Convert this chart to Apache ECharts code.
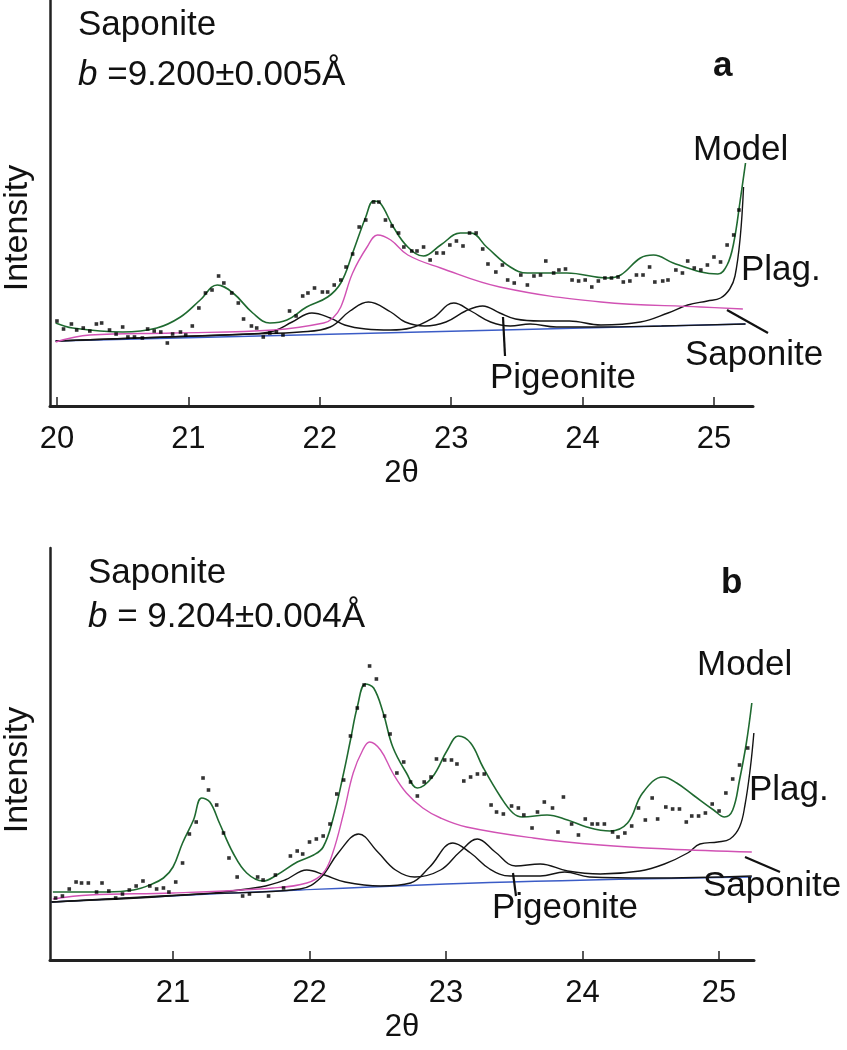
<!DOCTYPE html>
<html>
<head>
<meta charset="utf-8">
<script src="https://cdn.jsdelivr.net/npm/echarts@6/dist/echarts.min.js"></script>
<style>html,body{margin:0;padding:0;background:#fff;}#c{width:847px;height:1050px;}</style>
</head>
<body>
<div id="c"></div>
<script>
// ---------- Data: panel a ----------
var ticksA = [20, 21, 22, 23, 24, 25];
var ticksB = [21, 22, 23, 24, 25];

var obsA = [[20.00,85],[20.05,77],[20.11,82],[20.15,76],[20.20,78],[20.25,75],[20.30,82],[20.34,83],[20.40,76],[20.45,72],[20.50,79],[20.54,69],[20.59,69],[20.65,68],[20.69,77],[20.74,75],[20.79,74],[20.84,63],[20.88,72],[20.94,74],[20.98,71],[21.03,80],[21.08,98],[21.13,113],[21.18,116],[21.23,130],[21.27,123],[21.33,113],[21.38,103],[21.42,87],[21.48,80],[21.52,78],[21.57,69],[21.62,73],[21.67,74],[21.72,71],[21.77,95],[21.82,90],[21.87,110],[21.91,113],[21.96,118],[22.02,114],[22.06,114],[22.11,121],[22.16,126],[22.20,139],[22.25,152],[22.30,179],[22.35,186],[22.41,204],[22.45,204],[22.50,186],[22.55,180],[22.60,173],[22.64,159],[22.70,155],[22.74,155],[22.79,159],[22.84,146],[22.89,153],[22.94,153],[22.99,161],[23.04,165],[23.09,160],[23.14,173],[23.19,173],[23.24,157],[23.28,142],[23.34,134],[23.39,141],[23.43,126],[23.48,123],[23.53,131],[23.58,121],[23.63,130],[23.68,131],[23.72,145],[23.78,133],[23.82,136],[23.87,137],[23.92,126],[23.97,125],[24.02,126],[24.07,119],[24.12,125],[24.17,128],[24.22,128],[24.27,129],[24.31,124],[24.36,125],[24.41,131],[24.46,131],[24.51,139],[24.55,124],[24.61,125],[24.65,126],[24.71,136],[24.76,133],[24.80,145],[24.85,138],[24.90,136],[24.95,141],[25.00,149],[25.05,144],[25.10,161],[25.15,171],[25.19,196]];

var modelA = [[19.99,83],[20.12,78],[20.50,74],[20.76,78],[20.94,89],[21.09,106],[21.22,121],[21.34,113],[21.49,93],[21.62,83],[21.75,86],[21.90,99],[22.06,109],[22.16,123],[22.25,153],[22.35,189],[22.41,205],[22.46,203],[22.56,179],[22.67,159],[22.79,150],[22.92,161],[23.07,173],[23.15,173],[23.27,159],[23.45,139],[23.58,133],[23.88,133],[24.19,128],[24.29,131],[24.44,148],[24.54,151],[24.69,143],[24.90,134],[25.03,132],[25.10,141],[25.15,163],[25.20,206],[25.24,243]];

var saponiteA = [[19.99,64],[20.25,71],[20.88,73],[21.65,76],[22.03,83],[22.10,88],[22.16,99],[22.25,133],[22.36,159],[22.44,171],[22.54,166],[22.67,151],[22.92,138],[23.37,119],[24.14,104],[24.90,99],[25.22,97]];

var pigeoniteA = [[19.99,65],[20.84,69],[21.47,72],[21.65,75],[21.79,84],[21.94,93],[22.08,88],[22.19,81],[22.35,77],[22.54,76],[22.69,78],[22.86,88],[23.02,103],[23.15,95],[23.30,84],[23.45,80],[23.60,82],[23.80,79],[24.10,79],[24.60,80],[25.24,82]];

var plagA = [[19.99,65],[20.84,69],[21.47,72],[21.85,74],[22.08,79],[22.23,95],[22.37,104],[22.54,94],[22.65,84],[22.80,80],[22.96,84],[23.11,95],[23.24,100],[23.37,93],[23.49,87],[23.68,85],[23.90,85],[24.14,81],[24.44,84],[24.65,93],[24.80,101],[24.95,105],[25.05,108],[25.12,117],[25.16,130],[25.20,169],[25.225,219]];

var baseA = [[19.99,65],[25.24,82]];

// ---------- Data: panel b ----------
var obsB = [[20.14,62],[20.19,64],[20.24,71],[20.29,78],[20.33,77],[20.38,77],[20.44,68],[20.48,77],[20.53,69],[20.58,62],[20.63,66],[20.68,70],[20.73,74],[20.78,79],[20.83,74],[20.88,71],[20.93,72],[20.97,68],[21.02,78],[21.07,97],[21.12,126],[21.17,138],[21.22,182],[21.26,170],[21.32,155],[21.37,127],[21.41,102],[21.47,83],[21.51,64],[21.56,66],[21.62,83],[21.66,80],[21.70,64],[21.75,85],[21.81,72],[21.86,104],[21.91,109],[21.95,106],[22.00,118],[22.05,121],[22.10,124],[22.15,136],[22.20,166],[22.25,180],[22.30,224],[22.35,252],[22.40,275],[22.44,294],[22.49,281],[22.55,244],[22.59,226],[22.64,187],[22.69,198],[22.74,178],[22.79,164],[22.84,178],[22.89,183],[22.93,201],[22.99,200],[23.04,200],[23.08,196],[23.13,179],[23.18,183],[23.23,186],[23.28,186],[23.33,155],[23.37,148],[23.42,146],[23.48,154],[23.53,152],[23.57,145],[23.63,132],[23.67,148],[23.72,158],[23.78,152],[23.82,128],[23.86,163],[23.92,136],[23.97,125],[24.02,141],[24.07,136],[24.11,136],[24.16,136],[24.22,128],[24.26,123],[24.31,127],[24.36,134],[24.41,152],[24.46,140],[24.51,162],[24.55,141],[24.61,153],[24.66,151],[24.71,151],[24.76,138],[24.80,144],[24.85,144],[24.90,147],[24.95,156],[25.00,149],[25.05,167],[25.10,181],[25.15,195],[25.21,212]];

var modelB = [[20.12,68],[20.27,68],[20.52,68],[20.71,70],[20.83,75],[20.93,82],[21.00,93],[21.07,117],[21.15,140],[21.21,162],[21.27,158],[21.34,137],[21.44,107],[21.54,87],[21.66,79],[21.76,85],[21.91,98],[22.03,105],[22.10,113],[22.17,140],[22.25,187],[22.30,220],[22.35,253],[22.41,276],[22.47,272],[22.54,247],[22.61,213],[22.71,187],[22.79,172],[22.90,183],[23.01,210],[23.09,224],[23.18,217],[23.27,193],[23.40,163],[23.49,147],[23.56,143],[23.74,145],[23.89,140],[24.03,133],[24.20,129],[24.33,137],[24.44,167],[24.59,183],[24.69,177],[24.81,165],[24.96,150],[25.04,143],[25.10,150],[25.15,180],[25.20,217],[25.24,257]];

var saponiteB = [[20.12,61],[20.39,65],[21.00,67],[21.73,72],[21.98,77],[22.10,87],[22.17,107],[22.25,147],[22.32,187],[22.39,210],[22.44,218],[22.52,210],[22.61,187],[22.71,167],[22.83,152],[22.96,142],[23.15,133],[23.64,122],[24.13,115],[24.62,111],[25.24,108]];

var pigeoniteB = [[20.11,58],[21.20,66],[21.64,73],[21.82,80],[21.98,90],[22.11,85],[22.26,78],[22.52,74],[22.74,77],[22.88,93],[23.05,117],[23.18,107],[23.32,91],[23.47,84],[23.69,84],[23.87,88],[24.05,83],[24.49,82],[25.24,84]];

var plagB = [[20.11,58],[21.20,66],[21.93,71],[22.08,82],[22.21,107],[22.36,126],[22.50,108],[22.63,90],[22.77,83],[22.96,90],[23.10,108],[23.23,121],[23.36,108],[23.51,94],[23.69,96],[23.89,89],[24.13,86],[24.42,89],[24.60,96],[24.77,107],[24.86,116],[24.99,118],[25.08,121],[25.15,133],[25.19,155],[25.23,193],[25.255,227]];

var baseB = [[20.11,58],[21.93,70],[23.47,78],[25.24,83]];

// ---------- Chart ----------
var FONT = 'Liberation Sans, Arial, sans-serif';
var C_GREEN = '#1f6a30', C_PINK = '#d152b4', C_BLUE = '#3b5cc6', C_BLACK = '#141414';
var TS = 35;

function xAx(idx, min, max, ticks) {
  return {
    type: 'value', gridIndex: idx, min: min, max: max,
    axisLine: {show: true, onZero: false, lineStyle: {color: '#222', width: 3}},
    axisTick: {show: true, inside: true, length: 9, customValues: ticks, lineStyle: {color: '#222', width: 1.5}},
    axisLabel: {show: true, customValues: ticks, color: '#111', fontSize: 31, fontFamily: FONT, margin: 18},
    splitLine: {show: false},
    name: '2θ', nameLocation: 'middle', nameGap: 52,
    nameTextStyle: {color: '#111', fontSize: 31, fontFamily: FONT}
  };
}
function yAx(idx, max) {
  return {
    type: 'value', gridIndex: idx, min: 0, max: max,
    axisLine: {show: true, lineStyle: {color: '#222', width: 2.5}},
    axisTick: {show: false}, axisLabel: {show: false}, splitLine: {show: false}
  };
}
function line(idx, data, color, z, w) {
  return {type: 'line', xAxisIndex: idx, yAxisIndex: idx, data: data, smooth: 0.4,
    showSymbol: false, symbol: 'none', z: z, silent: true,
    lineStyle: {color: color, width: w || 1.4}};
}
function dots(idx, data) {
  return {type: 'scatter', xAxisIndex: idx, yAxisIndex: idx, data: data, symbol: 'rect',
    symbolSize: 3.6, itemStyle: {color: '#000'}, z: 10, silent: true};
}
function txt(x, y, s, opt) {
  opt = opt || {};
  var sz = opt.size || TS;
  return {type: 'text', x: x, y: y, rotation: opt.rot || 0, silent: true, z: 100, style: {
    text: s, fontSize: sz, fontFamily: FONT, fontWeight: opt.weight || 'normal',
    fill: '#111', align: opt.align || 'left', verticalAlign: 'middle',
    rich: {i: {fontStyle: 'italic', fontSize: sz, fontFamily: FONT}}
  }};
}
function seg(x1, y1, x2, y2) {
  return {type: 'line', silent: true, z: 100, shape: {x1: x1, y1: y1, x2: x2, y2: y2},
    style: {stroke: '#111', lineWidth: 2.2}};
}

var chart = echarts.init(document.getElementById('c'), null, {renderer: 'canvas'});
chart.setOption({
  backgroundColor: '#fff',
  animation: false,
  grid: [
    {left: 50, top: 0, width: 703, height: 406, containLabel: false, outerBoundsMode: 'none'},
    {left: 50, top: 548, width: 704, height: 412, containLabel: false, outerBoundsMode: 'none'}
  ],
  xAxis: [xAx(0, 19.947, 25.297, ticksA), xAx(1, 20.099, 25.256, ticksB)],
  yAxis: [yAx(0, 406), yAx(1, 412)],
  series: [
    line(0, baseA, C_BLUE, 2, 1.3), line(0, pigeoniteA, C_BLACK, 3), line(0, plagA, C_BLACK, 3),
    line(0, saponiteA, C_PINK, 4), line(0, modelA, C_GREEN, 5, 1.6), dots(0, obsA),
    line(1, baseB, C_BLUE, 2, 1.3), line(1, pigeoniteB, C_BLACK, 3), line(1, plagB, C_BLACK, 3),
    line(1, saponiteB, C_PINK, 4), line(1, modelB, C_GREEN, 5, 1.6), dots(1, obsB)
  ],
  graphic: [
    txt(18, 228, 'Intensity', {rot: Math.PI / 2, align: 'center', size: 34}),
    txt(18, 770, 'Intensity', {rot: Math.PI / 2, align: 'center', size: 34}),
    txt(78, 25, 'Saponite'),
    txt(78, 75, '{i|b} =9.200±0.005Å'),
    txt(713, 66, 'a', {weight: 'bold'}),
    txt(693, 150, 'Model'),
    txt(741, 270, 'Plag.'),
    txt(685, 355, 'Saponite'),
    txt(490, 378, 'Pigeonite'),
    seg(727, 310, 768, 333),
    seg(503, 317, 505, 356),
    txt(88, 573, 'Saponite'),
    txt(88, 617, '{i|b} = 9.204±0.004Å'),
    txt(721, 583, 'b', {weight: 'bold'}),
    txt(697, 665, 'Model'),
    txt(749, 790, 'Plag.'),
    txt(703, 886, 'Saponite'),
    txt(492, 908, 'Pigeonite'),
    seg(745, 857, 780, 872),
    seg(513, 873, 516, 896)
  ]
});
</script>
</body>
</html>
